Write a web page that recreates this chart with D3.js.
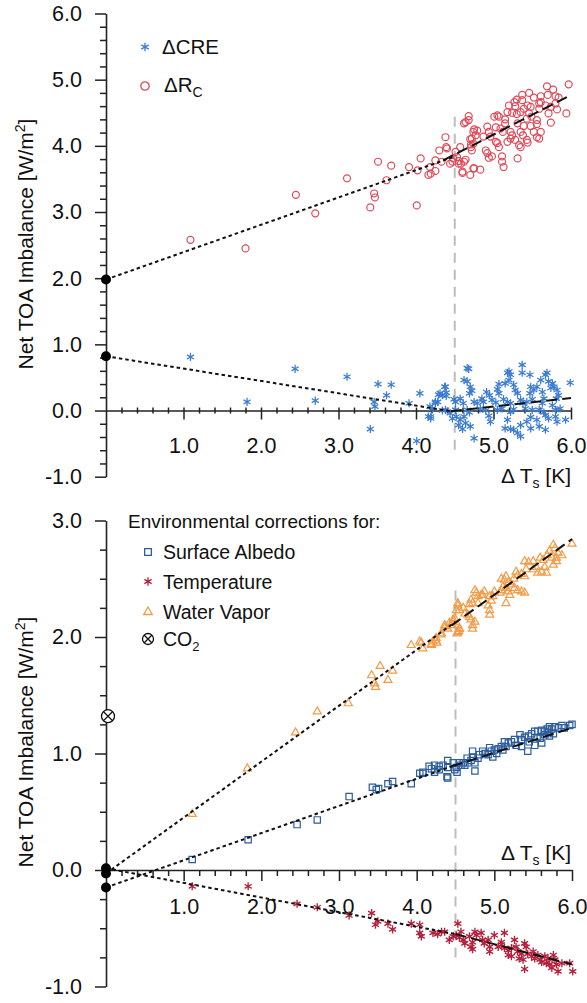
<!DOCTYPE html>
<html><head><meta charset="utf-8">
<script src="https://cdn.jsdelivr.net/npm/d3@7"></script>
<style>
body{margin:0;background:#fff}
svg{display:block;background:#fff}
text{font-family:"Liberation Sans",Arial,Helvetica,sans-serif;fill:#111}
</style>
</head><body>
<svg id="chart" width="587" height="1003"></svg>
<script>
// ---------------- DATA ----------------
const xTickValues = [1, 2, 3, 4, 5, 6];
const topYTickValues = [-1, 0, 1, 2, 3, 4, 5, 6];
const bottomYTickValues = [-1, 0, 1, 2, 3];
const breakpointTs = 4.5;

// Top panel: [ΔTs, value]
const rcPoints = [[1.09,2.58],[1.80,2.45],[2.45,3.26],[2.70,2.98],[3.11,3.51],[3.41,3.07],[3.46,3.28],[3.47,3.22],[3.51,3.76],[3.62,3.48],[3.68,3.70],[3.91,3.68],[4.01,3.10],[4.02,3.63],[4.06,3.81],[4.16,3.56],[4.19,3.58],[4.25,3.62],[4.18,3.68],[4.25,3.78],[4.30,3.93],[4.33,3.76],[4.38,4.13],[4.39,3.98],[4.47,3.76],[4.48,3.81],[4.51,3.91],[4.53,3.83],[4.55,3.77],[4.57,3.98],[4.58,3.73],[4.60,3.59],[4.62,4.34],[4.64,3.79],[4.68,4.45],[4.68,4.39],[4.70,3.56],[4.70,4.10],[4.71,4.02],[4.74,3.66],[4.74,4.21],[4.74,4.03],[4.71,3.98],
[5.97,4.93],[5.69,4.90],[5.77,4.85],[5.70,4.77],[5.61,4.75],[5.80,4.75],[5.84,4.73],[5.46,4.80],[5.37,4.77],[5.52,4.73],[5.30,4.70],[5.27,4.66],[5.37,4.69],[5.61,4.66],[5.59,4.64],[5.44,4.61],[5.48,4.59],[5.20,4.61],[5.28,4.60],[5.67,4.61],[5.74,4.59],[5.80,4.64],[5.82,4.55],[5.94,4.49],[5.71,4.49],[5.59,4.56],[5.39,4.56],[5.35,4.51],[5.24,4.50],[5.30,4.48],[5.18,4.51],[5.05,4.46],[5.07,4.44],[5.01,4.44],[5.46,4.49],[5.49,4.44],[5.43,4.41],[5.56,4.39],[5.56,4.33],[5.74,4.35],[5.15,4.40],[5.15,4.34],[5.31,4.34],[5.39,4.30],[5.48,4.30],[4.92,4.29],[4.94,4.21],[5.03,4.28],[5.09,4.26],[5.12,4.21],[5.22,4.21],[5.24,4.16],[5.35,4.21],[5.38,4.16],[5.52,4.21],[5.61,4.21],[5.59,4.11],[4.75,4.25],[4.79,4.23],[4.64,4.36],[4.77,4.16],[4.72,4.11],[4.87,4.14],[4.96,4.14],[5.03,4.06],[5.18,4.06],[5.22,4.11],[5.28,4.09],[5.33,4.01],[5.35,3.98],[5.43,4.09],[5.44,4.05],[5.05,4.04],[5.07,3.98],[5.11,3.84],[5.11,3.76],[5.13,3.68],[4.98,3.84],[4.94,3.82],[4.90,3.93],[4.92,3.89],[5.31,3.81],[4.72,3.93],[4.62,3.76],[4.44,3.73],[4.40,3.96],[4.60,3.61],[4.75,3.66],[4.83,3.64],[4.55,3.73],[5.56,4.13]];

const crePoints = [[1.09,0.81],[1.82,0.13],[2.44,0.63],[2.70,0.15],[3.11,0.51],[3.41,-0.28],[3.46,0.13],[3.47,0.06],[3.51,0.40],[3.62,0.23],[3.68,0.39],[3.91,0.11],[4.01,-0.46],[4.05,0.26],[4.16,-0.09],[4.19,-0.09],[4.18,0.06],[4.25,0.11],[4.29,0.24],[4.38,0.36],[4.39,0.22],[4.34,0.00],
[5.37,0.69],[5.37,0.57],[5.69,0.57],[5.67,0.54],[4.68,0.63],[5.18,0.57],[5.47,0.54],[4.62,0.46],[4.66,0.44],[5.20,0.46],[5.15,0.41],[5.07,0.40],[5.61,0.46],[5.71,0.44],[5.76,0.41],[5.99,0.42],[4.37,0.36],[4.39,0.27],[4.70,0.36],[4.72,0.30],[4.69,0.26],[4.91,0.28],[4.95,0.23],[5.05,0.32],[5.07,0.26],[5.26,0.39],[5.28,0.31],[5.31,0.26],[5.48,0.36],[5.52,0.31],[5.47,0.26],[5.56,0.36],[5.63,0.28],[5.74,0.34],[5.78,0.36],[5.82,0.31],[5.84,0.23],[5.81,0.18],[4.31,0.26],[4.34,0.23],[4.25,0.13],[4.28,0.13],[4.51,0.13],[4.49,0.17],[4.57,0.18],[4.61,0.11],[4.75,0.13],[4.79,0.11],[4.85,0.18],[4.87,0.13],[4.98,0.16],[5.03,0.12],[5.13,0.17],[5.18,0.13],[5.22,0.11],[5.35,0.16],[5.38,0.11],[5.43,0.13],[5.50,0.17],[5.65,0.18],[5.63,0.11],[5.76,0.08],[4.51,0.01],[4.44,-0.04],[4.38,0.01],[4.21,0.03],[4.19,-0.12],[4.66,0.01],[4.69,-0.03],[4.83,0.03],[4.90,0.00],[5.05,0.01],[5.11,0.03],[5.22,-0.02],[5.26,0.02],[5.41,0.03],[5.50,0.01],[5.59,0.01],[5.65,-0.03],[5.80,0.01],[5.86,0.03],[4.47,-0.12],[4.52,-0.09],[4.57,-0.14],[4.62,-0.09],[4.64,-0.19],[4.55,-0.22],[4.60,-0.28],[4.70,-0.24],[4.75,-0.42],[4.94,-0.08],[4.96,-0.17],[5.18,-0.14],[5.15,-0.27],[5.22,-0.28],[5.26,-0.29],[5.31,-0.34],[5.35,-0.39],[5.35,-0.22],[5.43,-0.17],[5.48,-0.10],[5.56,-0.14],[5.59,-0.24],[5.67,-0.07],[5.71,-0.12],[5.80,-0.09],[5.82,-0.17],[5.93,-0.14],[5.67,-0.29],[5.48,-0.27],[4.66,0.64],[5.20,0.59],[5.22,0.54]];

// Bottom panel: [ΔTs, value]
const albedoPoints = [[1.11,0.09],[1.83,0.26],[2.46,0.39],[2.72,0.43],[3.13,0.63],[3.43,0.71],[3.48,0.69],[3.51,0.70],[3.63,0.74],[3.69,0.76],[3.93,0.74],[4.04,0.83],[4.08,0.84],[4.16,0.89],[4.23,0.90],[4.29,0.89],[4.40,0.94],[4.39,0.80],
[6.00,1.25],[5.97,1.24],[5.87,1.24],[5.83,1.22],[5.78,1.23],[5.71,1.23],[5.68,1.21],[5.74,1.21],[5.76,1.17],[5.71,1.15],[5.65,1.16],[5.61,1.20],[5.56,1.19],[5.52,1.19],[5.48,1.17],[5.44,1.15],[5.39,1.14],[5.33,1.16],[5.35,1.12],[5.59,1.13],[5.61,1.09],[5.52,1.07],[5.26,1.12],[5.22,1.10],[5.18,1.09],[5.13,1.10],[5.28,1.07],[5.35,1.06],[5.43,1.02],[5.09,1.06],[5.05,1.04],[5.11,1.03],[4.94,1.05],[4.96,1.02],[4.92,0.99],[4.98,0.97],[5.03,1.00],[4.85,1.02],[4.81,0.99],[4.79,0.96],[4.72,1.02],[4.72,0.97],[4.75,0.92],[4.70,0.94],[4.66,0.92],[4.62,0.90],[4.60,0.92],[4.75,0.85],[4.51,0.88],[4.49,0.86],[4.52,0.84],[4.40,0.79],[4.47,0.92],[4.55,0.92],[4.40,0.88],[4.34,0.90],[4.29,0.86],[4.23,0.84],[4.19,0.87],[4.08,0.83],[5.90,1.22],[5.65,1.19],[5.45,1.10],[5.00,1.03],[4.88,1.00],[4.65,0.96],[4.57,0.90],[5.70,1.18],[5.55,1.14],[5.15,1.06]];

const temperaturePoints = [[1.11,-0.14],[1.83,-0.14],[2.46,-0.29],[2.72,-0.32],[3.13,-0.39],[3.42,-0.37],[3.50,-0.44],[3.47,-0.47],[3.63,-0.46],[3.69,-0.51],[3.93,-0.46],[4.04,-0.54],[4.06,-0.57],[4.04,-0.47],[4.21,-0.54],[4.27,-0.55],[4.32,-0.53],[4.36,-0.53],[4.42,-0.60],[4.47,-0.57],[4.53,-0.46],[4.51,-0.56],[4.55,-0.58],[4.60,-0.60],[4.62,-0.63],[4.57,-0.53],[4.68,-0.57],[4.72,-0.62],[4.75,-0.53],[4.77,-0.56],[4.70,-0.66],[4.72,-0.68],[4.83,-0.54],[4.85,-0.60],[4.87,-0.63],[4.92,-0.60],[4.94,-0.66],[4.94,-0.70],[5.00,-0.56],[5.09,-0.62],[5.13,-0.54],[5.05,-0.66],[5.09,-0.64],[5.13,-0.67],[5.18,-0.69],[5.22,-0.67],[5.26,-0.60],[5.28,-0.66],[5.18,-0.73],[5.22,-0.74],[5.30,-0.70],[5.35,-0.72],[5.39,-0.63],[5.41,-0.66],[5.32,-0.76],[5.37,-0.77],[5.39,-0.85],[5.43,-0.72],[5.48,-0.74],[5.50,-0.70],[5.52,-0.76],[5.56,-0.73],[5.59,-0.77],[5.61,-0.79],[5.65,-0.74],[5.69,-0.76],[5.67,-0.80],[5.71,-0.81],[5.76,-0.73],[5.78,-0.77],[5.80,-0.81],[5.82,-0.87],[5.74,-0.84],[5.87,-0.80],[5.97,-0.80],[6.01,-0.87]];

const waterVaporPoints = [[1.11,0.48],[1.82,0.87],[2.44,1.18],[2.72,1.36],[3.12,1.43],[3.42,1.67],[3.46,1.60],[3.47,1.57],[3.53,1.75],[3.63,1.63],[3.69,1.71],[3.93,1.93],[4.04,1.96],[4.08,1.90],[4.19,1.93],[4.21,1.96],[4.25,1.97],[4.26,1.95],[4.31,2.02],[4.37,2.09],[4.42,2.12],[4.47,2.15],[4.53,2.29],[4.54,2.05],[4.55,2.07],[4.52,2.03],
[6.00,2.80],[5.76,2.79],[5.78,2.76],[5.82,2.72],[5.87,2.70],[5.80,2.68],[5.71,2.74],[5.68,2.70],[5.74,2.68],[5.59,2.68],[5.63,2.66],[5.80,2.65],[5.76,2.62],[5.39,2.65],[5.44,2.64],[5.50,2.65],[5.54,2.60],[5.50,2.58],[5.56,2.55],[5.61,2.56],[5.65,2.60],[5.67,2.55],[5.41,2.58],[5.35,2.54],[5.39,2.52],[5.28,2.56],[5.30,2.53],[5.25,2.50],[5.15,2.52],[5.13,2.49],[5.18,2.47],[5.09,2.50],[5.22,2.45],[5.26,2.42],[5.30,2.40],[5.35,2.39],[5.39,2.38],[5.18,2.39],[5.20,2.36],[5.15,2.42],[5.11,2.43],[5.09,2.40],[5.07,2.38],[5.00,2.39],[4.98,2.35],[5.15,2.29],[4.94,2.35],[4.96,2.31],[4.87,2.39],[4.85,2.36],[4.75,2.40],[4.77,2.38],[4.79,2.35],[4.83,2.36],[4.70,2.32],[4.72,2.29],[4.68,2.28],[4.79,2.29],[4.92,2.27],[4.94,2.23],[4.94,2.19],[4.53,2.27],[4.55,2.23],[4.51,2.23],[4.60,2.25],[4.62,2.20],[4.66,2.19],[4.68,2.17],[4.70,2.15],[4.72,2.10],[4.72,2.07],[4.75,2.13],[4.49,2.16],[4.47,2.13],[4.44,2.10],[4.53,2.10],[4.55,2.07],[4.53,2.04],[4.36,2.10],[4.40,2.07],[4.32,2.03],[4.25,1.99],[4.19,1.94],[4.06,1.95]];

const co2Point = [0, 1.32];

// Regression segments: early (dotted) and late (dashed)
const rcFitEarly = [[0,1.98],[4.5,3.84]];
const rcFitLate = [[4.35,3.78],[6.0,4.77]];
const creFitEarly = [[0,0.82],[4.45,-0.01]];
const creFitLate = [[4.45,-0.01],[6.0,0.19]];
const wvFitEarly = [[0,-0.03],[4.5,2.13]];
const wvFitLate = [[4.45,2.10],[6.0,2.84]];
const albedoFitEarly = [[0,-0.15],[4.5,0.90]];
const albedoFitLate = [[4.45,0.89],[6.0,1.22]];
const tempFitEarly = [[0,0.015],[4.5,-0.55]];
const tempFitLate = [[4.5,-0.55],[6.0,-0.81]];

// ---------------- DRAWING ----------------
const svg = d3.select("#chart");
const C = {rc:"#de4a58", cre:"#3b7cd0", albedo:"#2c5d9c", temp:"#b51f3b", wv:"#f29b48", axis:"#222"};

const xTop = d3.scaleLinear().domain([0,6]).range([106,571]);
const yTop = d3.scaleLinear().domain([-1,6]).range([476.7,13.5]);
const xBot = d3.scaleLinear().domain([0,6]).range([106,572]);
const yBot = d3.scaleLinear().domain([-1,3]).range([986.5,520.5]);

const fmt = d => d.toFixed(1);
const sym = (type,size) => d3.symbol(type,size)();

function axes(x, y, yMajor, yMinorStep, opts){
  const g = svg.append("g");
  g.append("g").attr("transform",`translate(${x(0)},0)`)
    .call(d3.axisLeft(y).tickValues(yMajor).tickSize(11).tickSizeOuter(0).tickPadding(13).tickFormat(fmt));
  const [y0,y1] = y.domain();
  const yMinor = d3.range(Math.round((y1-y0)/yMinorStep)+1).map(i=>y0+i*yMinorStep).filter(v=>Math.abs(v-Math.round(v))>1e-6);
  g.append("g").attr("transform",`translate(${x(0)},0)`)
    .call(d3.axisLeft(y).tickValues(yMinor).tickSize(6).tickFormat(""))
    .select(".domain").remove();
  const xa = g.append("g").attr("transform",`translate(0,${y(0)})`)
    .call(d3.axisBottom(x).tickValues(xTickValues).tickSize(opts.major).tickSizeOuter(0).tickPadding(opts.pad).tickFormat(fmt));
  xa.selectAll(".tick line").attr("y1", opts.up);
  const xMinor = d3.range(31).map(i=>i*0.2).filter(v=>Math.abs(v-Math.round(v))>1e-6);
  const xm = g.append("g").attr("transform",`translate(0,${y(0)})`)
    .call(d3.axisBottom(x).tickValues(xMinor).tickSize(opts.minor).tickFormat(""));
  xm.select(".domain").remove();
  xm.selectAll(".tick line").attr("y1", opts.up);
  g.selectAll(".domain").attr("stroke",C.axis).attr("stroke-width",1.6);
  g.selectAll(".tick line").attr("stroke",C.axis).attr("stroke-width",1.5);
  g.selectAll(".tick text").attr("font-size",21.5).attr("fill","#111")
    .attr("font-family",'"Liberation Sans",Arial,sans-serif');
}

function points(data, x, y, shape, color, size, sw){
  svg.append("g").selectAll("path").data(data).join("path")
    .attr("transform", d=>`translate(${x(d[0])},${y(d[1])})`)
    .attr("d", sym(shape,size))
    .attr("fill","none").attr("stroke",color).attr("stroke-width",sw);
}

function fit(seg, x, y, dash){
  svg.append("path").datum(seg)
    .attr("d", d3.line().x(d=>x(d[0])).y(d=>y(d[1])))
    .attr("fill","none").attr("stroke","#111").attr("stroke-width",2)
    .attr("stroke-dasharray", dash);
}

function intercept(seg, x, y){
  svg.append("circle").attr("cx",x(seg[0][0])).attr("cy",y(seg[0][1])).attr("r",5).attr("fill","#000");
}

// ---- TOP PANEL ----
svg.append("line").attr("x1",xTop(breakpointTs)).attr("x2",xTop(breakpointTs))
  .attr("y1",yTop(4.44)).attr("y2",yTop(-0.6))
  .attr("stroke","#bdbdbd").attr("stroke-width",2).attr("stroke-dasharray","10,7");
axes(xTop, yTop, topYTickValues, 0.2, {major:9, minor:3, up:-3, pad:18});
points(rcPoints, xTop, yTop, d3.symbolCircle, C.rc, 38, 1.2);
points(crePoints, xTop, yTop, d3.symbolAsterisk, C.cre, 46, 1.25);
fit(rcFitEarly, xTop, yTop, "3.5,3");
fit(rcFitLate, xTop, yTop, "11,5");
fit(creFitEarly, xTop, yTop, "3.5,3");
fit(creFitLate, xTop, yTop, "11,5");
intercept(rcFitEarly, xTop, yTop);
intercept(creFitEarly, xTop, yTop);

// top legend
svg.append("path").attr("transform","translate(145,47)").attr("d",sym(d3.symbolAsterisk,52))
  .attr("fill","none").attr("stroke",C.cre).attr("stroke-width",1.3);
svg.append("text").attr("x",162).attr("y",54).attr("font-size",20.5).text("ΔCRE");
svg.append("path").attr("transform","translate(145,86)").attr("d",sym(d3.symbolCircle,56))
  .attr("fill","none").attr("stroke",C.rc).attr("stroke-width",1.3);
const rcT = svg.append("text").attr("x",164).attr("y",92).attr("font-size",20.5);
rcT.append("tspan").text("ΔR");
rcT.append("tspan").attr("dy",5).attr("font-size",14).text("C");

// top labels
const ylT = svg.append("text").attr("transform","translate(33,244) rotate(-90)")
  .attr("text-anchor","middle").attr("font-size",21);
ylT.append("tspan").text("Net TOA Imbalance [W/m");
ylT.append("tspan").attr("dy",-8).attr("font-size",14).text("2");
ylT.append("tspan").attr("dy",8).text("]");

function xLabel(yb){
  const t = svg.append("text").attr("x",571).attr("y",yb).attr("text-anchor","end").attr("font-size",21);
  t.append("tspan").text("Δ T");
  t.append("tspan").attr("dy",5).attr("font-size",14).text("s");
  t.append("tspan").attr("dy",-5).text(" [K]");
}
xLabel(483);

// ---- BOTTOM PANEL ----
svg.append("line").attr("x1",xBot(breakpointTs)).attr("x2",xBot(breakpointTs))
  .attr("y1",yBot(2.4)).attr("y2",yBot(-0.8))
  .attr("stroke","#bdbdbd").attr("stroke-width",2).attr("stroke-dasharray","10,7");
axes(xBot, yBot, bottomYTickValues, 0.25, {major:11, minor:6, up:0, pad:18});
points(waterVaporPoints, xBot, yBot, d3.symbolTriangle, C.wv, 28, 1.2);
points(albedoPoints, xBot, yBot, d3.symbolSquare, C.albedo, 40, 1.2);
points(temperaturePoints, xBot, yBot, d3.symbolAsterisk, C.temp, 46, 1.35);
fit(wvFitEarly, xBot, yBot, "3.5,3");
fit(wvFitLate, xBot, yBot, "11,5");
fit(albedoFitEarly, xBot, yBot, "3.5,3");
fit(albedoFitLate, xBot, yBot, "11,5");
fit(tempFitEarly, xBot, yBot, "3.5,3");
fit(tempFitLate, xBot, yBot, "11,5");
intercept(wvFitEarly, xBot, yBot);
intercept(albedoFitEarly, xBot, yBot);
intercept(tempFitEarly, xBot, yBot);

// CO2 marker
function co2(cx, cy, r){
  const g = svg.append("g").attr("transform",`translate(${cx},${cy})`);
  g.append("circle").attr("r",r).attr("fill","#fff").attr("stroke","#111").attr("stroke-width",1.3);
  g.append("path").attr("d",sym(d3.symbolTimes, (r*0.72/0.6189)**2+1.7)).attr("fill","none").attr("stroke","#111").attr("stroke-width",1.3);
}
co2(xBot(co2Point[0])+2, yBot(co2Point[1]), 6.5);

// bottom legend
svg.append("text").attr("x",128).attr("y",528).attr("font-size",19).text("Environmental corrections for:");
const legRows = [
  {shape:d3.symbolSquare, color:C.albedo, size:44, label:"Surface Albedo", cy:552},
  {shape:d3.symbolAsterisk, color:C.temp, size:50, label:"Temperature", cy:581.5},
  {shape:d3.symbolTriangle, color:C.wv, size:32, label:"Water Vapor", cy:612}
];
legRows.forEach(r=>{
  svg.append("path").attr("transform",`translate(148,${r.cy})`).attr("d",sym(r.shape,r.size))
    .attr("fill","none").attr("stroke",r.color).attr("stroke-width",1.3);
  svg.append("text").attr("x",163).attr("y",r.cy+7).attr("font-size",19.5).text(r.label);
});
co2(148, 639, 5.5);
const co2T = svg.append("text").attr("x",163).attr("y",646).attr("font-size",19.5);
co2T.append("tspan").text("CO");
co2T.append("tspan").attr("dy",5).attr("font-size",13).text("2");

const ylB = svg.append("text").attr("transform","translate(33,742) rotate(-90)")
  .attr("text-anchor","middle").attr("font-size",21);
ylB.append("tspan").text("Net TOA Imbalance [W/m");
ylB.append("tspan").attr("dy",-8).attr("font-size",14).text("2");
ylB.append("tspan").attr("dy",8).text("]");

xLabel(860);
</script>
</body></html>
